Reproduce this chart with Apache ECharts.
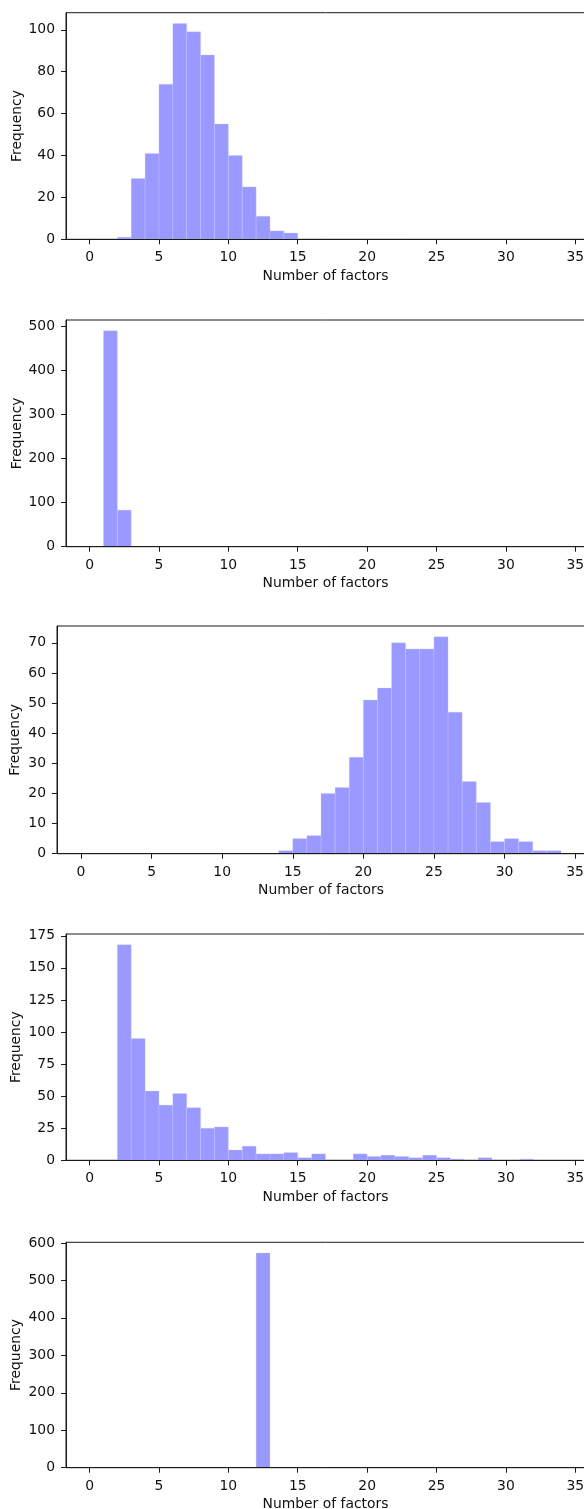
<!DOCTYPE html>
<html>
<head>
<meta charset="utf-8">
<script src="https://cdn.jsdelivr.net/npm/echarts@6/dist/echarts.min.js"></script>
<style>
  html, body { margin: 0; padding: 0; background: #fff; overflow: hidden; }
  #chart { width: 584px; height: 1509px; }
</style>
</head>
<body>
<div id="chart"></div>
<script>
// Histogram bin edges: 0,1,2,...,34 (bin i spans [i, i+1])
const binStarts = Array.from({length: 34}, (_, i) => i);

// Counts per bin (bins 0-1 ... 33-34)
const counts1 = [0,0,1,29,41,74,103,99,88,55,40,25,11,4,3,0,0,0,0,0,0,0,0,0,0,0,0,0,0,0,0,0,0,0];
const counts2 = [0,490,83,0,0,0,0,0,0,0,0,0,0,0,0,0,0,0,0,0,0,0,0,0,0,0,0,0,0,0,0,0,0,0];
const counts3 = [0,0,0,0,0,0,0,0,0,0,0,0,0,0,1,5,6,20,22,32,51,55,70,68,68,72,47,24,17,4,5,4,1,1];
const counts4 = [0,0,168,95,54,43,52,41,25,26,8,11,5,5,6,2,5,0,0,5,3,4,3,2,4,2,1,0,2,0,0,1,0,0];
const counts5 = [0,0,0,0,0,0,0,0,0,0,0,0,573,0,0,0,0,0,0,0,0,0,0,0,0,0,0,0,0,0,0,0,0,0];

// Tick labels
const xTicks = [0,5,10,15,20,25,30,35];
const yTicks1 = [0,20,40,60,80,100];
const yTicks2 = [0,100,200,300,400,500];
const yTicks3 = [0,10,20,30,40,50,60,70];
const yTicks4 = [0,25,50,75,100,125,150,175];
const yTicks5 = [0,100,200,300,400,500,600];

const xName = 'Number of factors';
const yName = 'Frequency';

const panels = [
  {counts: counts1, yTicks: yTicks1, left: 66, top: 12.7, height: 226.6, yGap: 42},
  {counts: counts2, yTicks: yTicks2, left: 66, top: 320, height: 226.7, yGap: 42},
  {counts: counts3, yTicks: yTicks3, left: 57, top: 626, height: 227.7, yGap: 34.3},
  {counts: counts4, yTicks: yTicks4, left: 66, top: 934, height: 226.3, yGap: 43},
  {counts: counts5, yTicks: yTicks5, left: 66, top: 1242.3, height: 225.4, yGap: 43}
];

const FONT = 'DejaVu Sans';
const FS = 13.9;
const INK = '#111';
const LINE = '#1a1a1a';

const grids = [], xAxes = [], yAxes = [], series = [];
panels.forEach((p, i) => {
  grids.push({
    left: p.left, top: p.top, height: p.height, width: 585 - p.left,
    containLabel: false, outerBoundsMode: 'none',
    show: true, borderColor: LINE, borderWidth: 1, backgroundColor: 'transparent'
  });
  xAxes.push({
    type: 'value', gridIndex: i, min: -1.7, max: 35.7, z: 5,
    name: xName, nameLocation: 'middle', nameGap: 30, nameMoveOverlap: false,
    nameTextStyle: {fontFamily: FONT, fontSize: FS, color: INK},
    axisLine: {show: true, onZero: false, lineStyle: {color: LINE, width: 1}},
    axisTick: {show: true, inside: false, length: 5, lineStyle: {color: LINE, width: 1}, customValues: xTicks},
    axisLabel: {fontFamily: FONT, fontSize: FS, color: INK, margin: 11.5, customValues: xTicks, hideOverlap: false},
    splitLine: {show: false}
  });
  const ymax = Math.max(...p.counts) * 1.05;
  yAxes.push({
    type: 'value', gridIndex: i, min: 0, max: ymax, z: 5,
    name: yName, nameLocation: 'middle', nameGap: p.yGap, nameRotate: 90, nameMoveOverlap: false,
    nameTextStyle: {fontFamily: FONT, fontSize: FS, color: INK},
    axisLine: {show: true, onZero: false, lineStyle: {color: LINE, width: 1}},
    axisTick: {show: true, inside: false, length: 5, lineStyle: {color: LINE, width: 1}, customValues: p.yTicks},
    axisLabel: {fontFamily: FONT, fontSize: FS, color: INK, margin: 11, customValues: p.yTicks},
    splitLine: {show: false}
  });
  series.push({
    type: 'custom', xAxisIndex: i, yAxisIndex: i, z: 2,
    data: binStarts.map((b, k) => [b, b + 1, p.counts[k]]),
    encode: {x: [0, 1], y: 2},
    renderItem: function (params, api) {
      const x0 = api.value(0), x1 = api.value(1), v = api.value(2);
      if (!(v > 0)) return null;
      const a = api.coord([x0, 0]);
      const b = api.coord([x1, v]);
      return {
        type: 'rect',
        shape: {x: a[0], y: b[1], width: b[0] - a[0], height: a[1] - b[1]},
        style: {fill: '#9999ff', stroke: 'rgba(205,205,255,0.8)', lineWidth: 0.4}
      };
    }
  });
});

const chart = echarts.init(document.getElementById('chart'), null, {renderer: 'canvas'});
chart.setOption({
  animation: false,
  backgroundColor: '#fff',
  grid: grids,
  xAxis: xAxes,
  yAxis: yAxes,
  series: series
});
</script>
</body>
</html>
